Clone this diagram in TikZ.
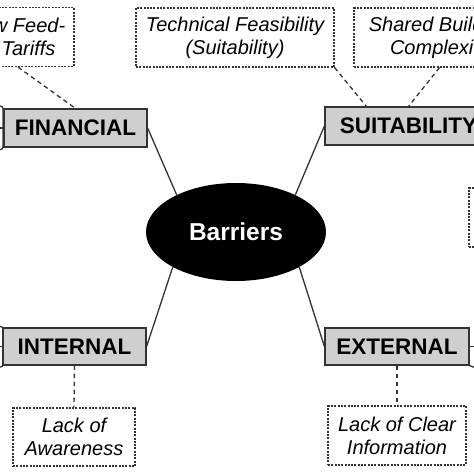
\documentclass[tikz,border=0pt]{standalone}
\usepackage{fontspec}
\setmainfont{Liberation Sans}
\usetikzlibrary{shapes.geometric}
\definecolor{boxgray}{HTML}{CFCFCF}
\definecolor{edgegray}{HTML}{333333}
\tikzset{
  catbox/.style={draw=edgegray, fill=boxgray, line width=1.2pt, inner sep=0pt,
    font=\fontsize{22.5}{27}\selectfont\bfseries},
  leafbox/.style={draw=edgegray, line width=1.2pt, dash pattern=on 2pt off 1.3pt,
    inner sep=0pt, align=center, font=\fontsize{20}{23}\selectfont\itshape},
  link/.style={draw=edgegray, line width=1.3pt},
  dlink/.style={draw=edgegray, line width=1.3pt, dash pattern=on 4.5pt off 3.5pt},
}
\begin{document}
\begin{tikzpicture}[x=1pt,y=-1pt]
\useasboundingbox (0,0) rectangle (474,474);
% centre
\node[ellipse, fill=black, minimum width=180pt, minimum height=98pt, inner sep=0pt,
  text=white, font=\fontsize{24.5}{28}\selectfont\bfseries] (bar) at (236,232) {Barriers};
% categories
\node[catbox, minimum width=143pt, minimum height=38pt] (fin) at (75.5,128) {FINANCIAL};
\node[catbox, minimum width=167pt, minimum height=38pt] (suit) at (408.5,126) {SUITABILITY};
\node[catbox, minimum width=143pt, minimum height=37pt] (int) at (74.5,346.5) {INTERNAL};
\node[catbox, minimum width=144pt, minimum height=37pt] (ext) at (397,346.5) {EXTERNAL};
% leaves
\node[leafbox, minimum width=112pt, minimum height=59pt] (feed) at (18,37) {Low Feed-\\in Tariffs};
\node[leafbox, minimum width=198pt, minimum height=59pt] (tech) at (235,37.5) {Technical Feasibility\\(Suitability)};
\node[leafbox, minimum width=171pt, minimum height=59pt] (shared) at (439.5,37.5) {Shared Building\\Complexity};
\node[leafbox, minimum width=100pt, minimum height=59pt] (rbox) at (519,217.5) {};
\node[leafbox, minimum width=122pt, minimum height=58pt] (aware) at (74,437) {Lack of\\Awareness};
\node[leafbox, minimum width=138pt, minimum height=59pt] (info) at (397,435.5) {Lack of Clear\\Information};
% solid connectors
\draw[link] (fin.east) -- (bar.148);
\draw[link] (suit.west) -- (bar.32);
\draw[link] (int.east) -- (bar.209);
\draw[link] (ext.west) -- (bar.331);
% dashed connectors
\draw[dlink] (feed.south) -- (fin.north);
\draw[dlink] (tech.south east) -- ([xshift=42pt]suit.north west);
\draw[dlink] (shared.south) -- (suit.north);
\draw[dlink] (int.south) -- (aware.north);
\draw[dlink] (ext.south) -- (info.north);
% partial connectors at the edges
\coordinate (finL) at (-8,128);
\coordinate (intL) at (-8,346.5);
\draw[link, rounded corners=2.5pt] (-8,106) -- (3,106) -- (3,149.5) -- (-8,149.5);
\draw[link] (finL) -- (fin.west);
\draw[link, rounded corners=2.5pt] (-8,326.5) -- (3,326.5) -- (3,367) -- (-8,367);
\draw[link] (intL) -- (int.west);
\coordinate (extR) at (484,346.5);
\coordinate (extR2) at (484,371);
\draw[link] (ext.east) -- (extR);
\draw[link] (ext.south east) -- (extR2);
\end{tikzpicture}
\end{document}
